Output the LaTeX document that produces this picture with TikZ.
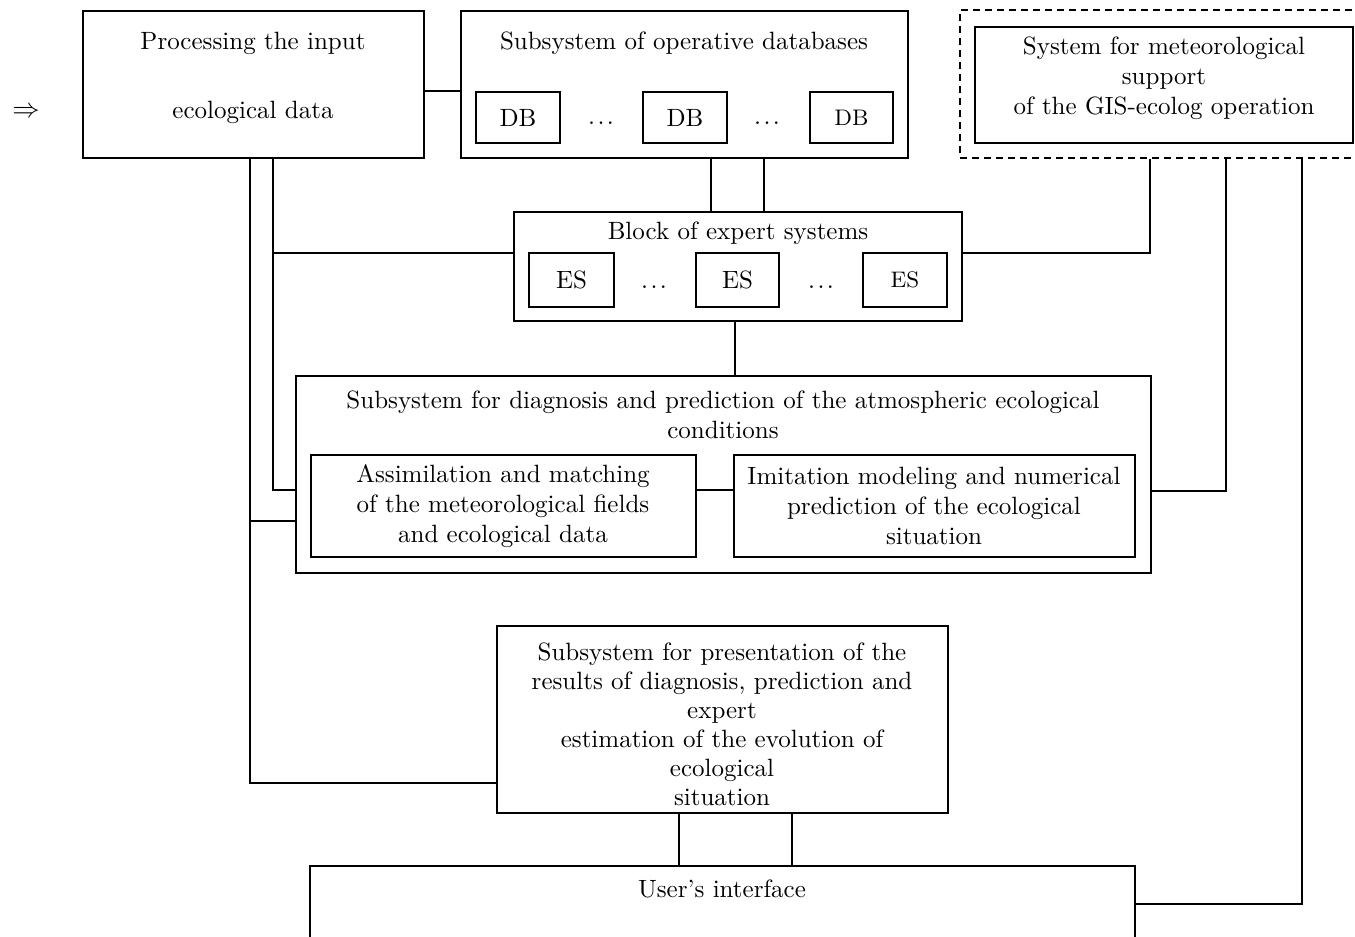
\documentclass[tikz,border=0pt]{standalone}
\begin{document}
\begin{tikzpicture}[x=0.4pt,y=-0.4pt,
  frame/.style={draw, line width=0.8pt, inner sep=0pt, rectangle, font=\fontsize{10pt}{12pt}\selectfont},
  sz/.style 2 args={minimum width=#1*0.4pt, minimum height=#2*0.4pt},
  link/.style={line width=0.8pt},
  lbl/.style={inner sep=0pt, align=center, font=\fontsize{10pt}{12pt}\selectfont},
  dashframe/.style={draw, line width=0.8pt, inner sep=0pt, rectangle, dash pattern=on 2.8pt off 2pt},
]
\newcommand\dotrow{.\kern1pt.\kern1pt.}
\useasboundingbox (0,0) rectangle (1355,936);
\clip (0,0) rectangle (1355,936);

% input arrow
\node[lbl, font=\fontsize{11pt}{13pt}\selectfont] (inarrow) at (26,112) {$\Rightarrow$};

% input processing
\node[frame, sz={341}{147}] (proc) at (253.5,84.5) {};
\node[lbl] (procA) at (253,43) {Processing the input};
\node[lbl] (procB) at (253,112) {ecological data};

% operative databases
\node[frame, sz={447}{147}] (dbsys) at (684.5,84.5) {};
\node[lbl] (dbtitle) at (684,43) {Subsystem of operative databases};
\node[frame, sz={84}{51}] (db1) at (518,117.5) {DB};
\node[frame, sz={84}{51}] (db2) at (685,117.5) {DB};
\node[frame, sz={83}{51}, font=\small] (db3) at (851.5,117.5) {DB};
\node[lbl] (dbdots1) at (601,123) {\dotrow};
\node[lbl] (dbdots2) at (767,123) {\dotrow};

% meteorological support
\node[dashframe, sz={410}{148}] (metouter) at (1165,84) {};
\node[frame, sz={378}{116}] (met) at (1164,85) {};
\node[lbl] (mettext) at (1164,78.5) {System for meteorological\\support\\of the GIS-ecolog operation};

% expert systems
\node[frame, sz={448}{109}] (esb) at (738,266.5) {};
\node[lbl] (estitle) at (738,233) {Block of expert systems};
\node[frame, sz={85}{54}] (es1) at (571.5,280) {ES};
\node[frame, sz={83}{54}] (es2) at (737.5,280) {ES};
\node[frame, sz={84}{54}, font=\small] (es3) at (905,280) {ES};
\node[lbl] (esdots1) at (654,287) {\dotrow};
\node[lbl] (esdots2) at (821,287) {\dotrow};

% diagnosis and prediction
\node[frame, sz={855}{197}] (diag) at (723.5,474.5) {};
\node[lbl] (diagtitle) at (723,414.5) {Subsystem for diagnosis and prediction of the atmospheric ecological\\conditions};
\node[frame, sz={385}{102}] (assim) at (503.5,506) {};
\node[lbl] (assimtext) at (503,506) {Assimilation and matching\\of the meteorological fields\\and ecological data};
\node[frame, sz={401}{102}] (imit) at (934.5,506) {};
\node[lbl] (imittext) at (934,506) {Imitation modeling and numerical\\prediction of the ecological\\situation};

% presentation of results
\node[frame, sz={451}{187}] (pres) at (722.5,719.5) {};
\node[lbl, font=\fontsize{10pt}{11.6pt}\selectfont] (prestext) at (722,724.5) {Subsystem for presentation of the\\results of diagnosis, prediction and\\expert\\estimation of the evolution of\\ecological\\situation};

% user interface
\node[frame, sz={825}{94}] (ui) at (722.5,913) {};
\node[lbl] (uitext) at (722,889) {User's interface};

% junction points on the trunk lines
\coordinate (jA) at (273,253);
\coordinate (jB) at (250,521);

% connectors
\draw[link] (proc.east |- 0,91) -- (dbsys.west |- 0,91);
\draw[link] (dbsys.south -| 711,0) -- (esb.north -| 711,0);
\draw[link] (dbsys.south -| 764,0) -- (esb.north -| 764,0);
\draw[link] (esb.south -| 735,0) -- (diag.north -| 735,0);
\draw[link] (proc.south -| 273,0) |- (diag.west |- 0,490);
\draw[link] (jA) -- (esb.west |- jA);
\draw[link] (proc.south -| 250,0) |- (pres.west |- 0,783);
\draw[link] (jB) -- (diag.west |- jB);
\draw[link] (assim.east |- 0,490) -- (imit.west |- 0,490);
\draw[link] (esb.east |- 0,253) -| (metouter.south -| 1150,0);
\draw[link] (diag.east |- 0,491) -| (metouter.south -| 1226,0);
\draw[link] (ui.east |- 0,904) -| (metouter.south -| 1302,0);
\draw[link] (pres.south -| 679,0) -- (ui.north -| 679,0);
\draw[link] (pres.south -| 792,0) -- (ui.north -| 792,0);
\end{tikzpicture}
\end{document}
